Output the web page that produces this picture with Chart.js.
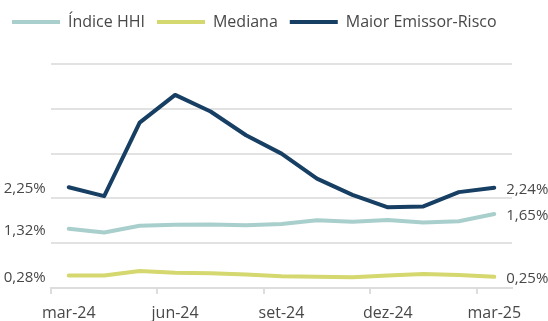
<!DOCTYPE html>
<html>
<head>
<meta charset="utf-8">
<script src="https://cdn.jsdelivr.net/npm/chart.js@4"></script>
<style>
  html, body { margin: 0; padding: 0; background: #fff; }
  #wrap { width: 548px; height: 321px; }
</style>
</head>
<body>
<div id="wrap"><canvas id="myChart"></canvas></div>
<script>
const months = ["mar-24", "abr-24", "mai-24", "jun-24", "jul-24", "ago-24", "set-24",
  "out-24", "nov-24", "dez-24", "jan-25", "fev-25", "mar-25"];

// % values, monthly
const hhi = [1.32, 1.24, 1.39, 1.41, 1.42, 1.40, 1.43, 1.51, 1.48, 1.52, 1.46, 1.49, 1.65];
const mediana = [0.28, 0.28, 0.38, 0.34, 0.33, 0.30, 0.26, 0.25, 0.24, 0.28, 0.31, 0.29, 0.25];
const maiorEmissor = [2.25, 2.05, 3.69, 4.31, 3.94, 3.41, 3.00, 2.44, 2.08, 1.80, 1.82, 2.14, 2.24];

const yTicks = [0, 1, 2, 3, 4, 5];

const font = "'Open Sans', sans-serif";
const textColor = "#484848";

const fmt = (v) => v.toFixed(2).replace(".", ",") + "%";

// first/last value labels beside each line
const endLabels = {
  id: "endLabels",
  afterDatasetsDraw(chart) {
    const c = chart.ctx;
    c.save();
    c.font = "15px " + font;
    c.fillStyle = textColor;
    c.textBaseline = "middle";
    chart.data.datasets.forEach((ds, i) => {
      const pts = chart.getDatasetMeta(i).data;
      const first = pts[0];
      const last = pts[pts.length - 1];
      c.textAlign = "right";
      c.fillText(fmt(ds.data[0]), first.x - 23, first.y + 2);
      c.textAlign = "left";
      c.fillText(fmt(ds.data[ds.data.length - 1]), last.x + 12, last.y + 2);
    });
    c.restore();
  },
};

// extra space under the legend
const legendGap = {
  id: "legendGap",
  beforeInit(chart) {
    const fit = chart.legend.fit;
    chart.legend.fit = function () {
      fit.bind(chart.legend)();
      this.height += 24;
    };
  },
};

const ctx = document.getElementById("myChart");
new Chart(ctx, {
  type: "line",
  data: {
    labels: months,
    datasets: [
      { label: "Índice HHI", data: hhi, borderColor: "#a9cfcd" },
      { label: "Mediana", data: mediana, borderColor: "#d5d76f" },
      { label: "Maior Emissor-Risco", data: maiorEmissor, borderColor: "#173f63" },
    ].map((d) => ({
      ...d,
      backgroundColor: d.borderColor,
      borderWidth: 4,
      pointRadius: 0,
      tension: 0,
      borderCapStyle: "round",
      borderJoinStyle: "round",
    })),
  },
  options: {
    responsive: true,
    maintainAspectRatio: false,
    animation: false,
    layout: { padding: { left: 0, right: 0, top: 2, bottom: 0 } },
    plugins: {
      tooltip: { enabled: false },
      legend: {
        position: "top",
        align: "start",
        labels: {
          font: { family: font, size: 16 },
          color: textColor,
          boxWidth: 48,
          boxHeight: 4,
          padding: 12,
          useBorderRadius: true,
          borderRadius: 2,
          generateLabels(chart) {
            return chart.data.datasets.map((ds, i) => ({
              text: ds.label,
              fillStyle: ds.borderColor,
              strokeStyle: ds.borderColor,
              lineWidth: 0,
              fontColor: textColor,
              hidden: false,
              datasetIndex: i,
            }));
          },
        },
      },
    },
    scales: {
      x: {
        offset: true,
        afterFit: (axis) => {
          axis.height = 33;
        },
        grid: {
          offset: true,
          drawOnChartArea: false,
          drawTicks: true,
          tickLength: 6,
          lineWidth: 2,
          color: (c) => (c.index !== undefined && c.index % 3 === 0 ? "#dddddd" : "rgba(0,0,0,0)"),
        },
        border: { display: true, color: "#dddddd", width: 2 },
        ticks: {
          autoSkip: false,
          maxRotation: 0,
          padding: 10,
          color: textColor,
          font: { family: font, size: 16 },
          callback: (v, i) => (i % 3 === 0 ? months[i] : ""),
        },
      },
      y: {
        min: yTicks[0],
        max: yTicks[yTicks.length - 1],
        afterBuildTicks: (axis) => {
          axis.ticks = yTicks.map((v) => ({ value: v }));
        },
        afterFit: (axis) => {
          axis.width = 51;
        },
        grid: { color: "#e2e2e2", lineWidth: 2, drawTicks: false },
        border: { display: false },
        ticks: { display: false },
      },
      // empty right axis, leaves room for the end labels
      yRight: {
        position: "right",
        min: 0,
        max: 5,
        afterFit: (axis) => {
          axis.width = 36;
        },
        grid: { display: false },
        border: { display: false },
        ticks: { display: false },
      },
    },
  },
  plugins: [endLabels, legendGap],
});
</script>
</body>
</html>
